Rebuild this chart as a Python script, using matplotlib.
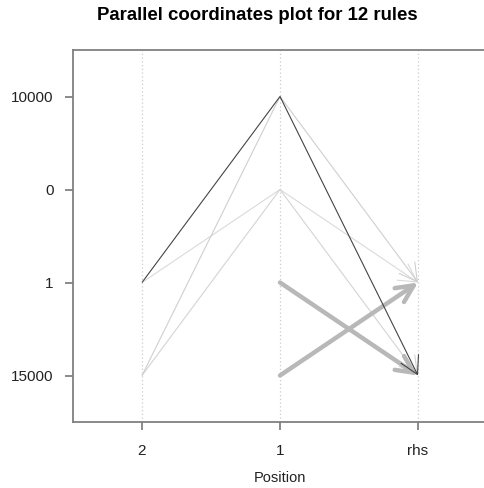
import numpy as np
import matplotlib
matplotlib.use("Agg")
import matplotlib.pyplot as plt

plt.rcParams['font.family'] = ['Liberation Sans', 'DejaVu Sans']

# axis labels
positions = ["2", "1", "rhs"]
items = ["15000", "1", "0", "10000"]

# each rule: item index (1-based, bottom to top) at positions 2, 1, rhs
rule_paths = [
    [2, 3, 2],
    [1, 3, 1],
    [1, 4, 2],
    [np.nan, 1, 2],
    [np.nan, 2, 1],
    [2, 4, 1],
]
rule_colors = ["#dadada", "#d4d4d4", "#cfcfcf", "#b8b8b8", "#b8b8b8", "#444444"]
rule_widths = [0.8, 0.8, 0.8, 3.2, 3.2, 0.8]

fig = plt.figure(figsize=(4.85, 4.88), dpi=100)
ax = fig.add_axes([73 / 485, 66 / 488, 414 / 485, 372 / 488])

xs = np.arange(1, len(positions) + 1)
for x in xs:
    ax.axvline(x, color="#cccccc", lw=0.9, ls=(0, (1, 2)), zorder=0)

for path, col, w in zip(rule_paths, rule_colors, rule_widths):
    ys = np.array(path, dtype=float)
    ok = ~np.isnan(ys)
    px, py = xs[ok], ys[ok]
    if len(px) > 2:
        ax.plot(px[:-1], py[:-1], color=col, lw=w, solid_capstyle="butt")
    hl = 1.25 if w > 2 else 1.25
    hw = 0.6 if w > 2 else 0.7
    ax.annotate("", xy=(px[-1], py[-1]), xytext=(px[-2], py[-2]),
                arrowprops=dict(arrowstyle=f"->,head_length={hl},head_width={hw}",
                                color=col, lw=w, shrinkA=0, shrinkB=0))

ax.set_xlim(0.5, 3.5)
ax.set_ylim(0.5, 4.5)
ax.set_xticks(xs)
ax.set_xticklabels(positions)
ax.set_yticks(range(1, len(items) + 1))
ax.set_yticklabels(items)
ax.tick_params(colors="#777777", labelcolor="#222222", labelsize=11, length=6, width=1.2)
ax.tick_params(axis="x", pad=10)
ax.tick_params(axis="y", pad=8)
for s in ax.spines.values():
    s.set_color("#808080")
    s.set_linewidth(1.3)

ax.set_xlabel("Position", fontsize=10.5, color="#222222", labelpad=9)
fig.suptitle("Parallel coordinates plot for 12 rules", fontsize=13.4, fontweight="bold",
             x=257 / 485, y=1 - 16 / 488, va="center")

fig.savefig("out.png", dpi=100)
